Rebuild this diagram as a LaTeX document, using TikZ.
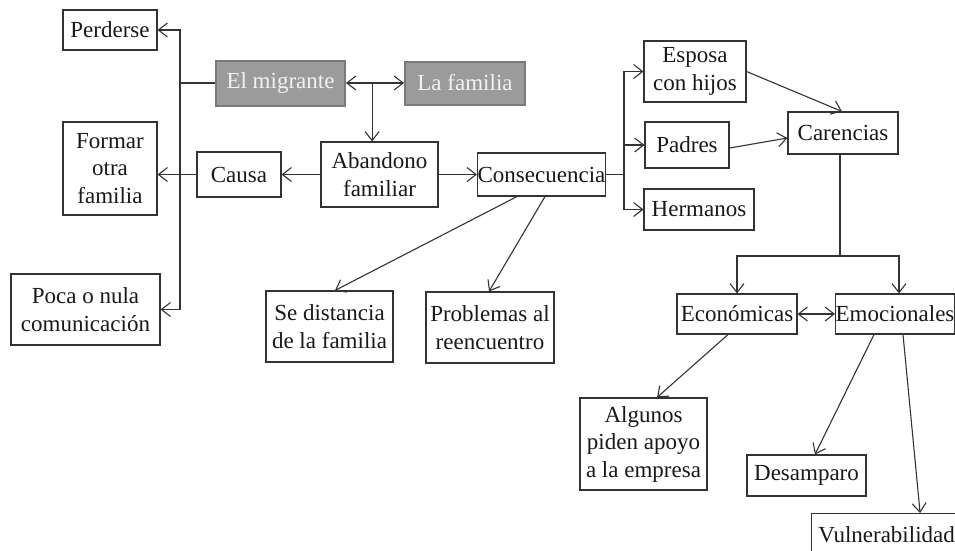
\documentclass[tikz,border=0pt]{standalone}
\usepackage{fontspec}
\setmainfont{Liberation Serif}
\usetikzlibrary{arrows.meta,calc}
\definecolor{ln}{HTML}{333333}
\definecolor{gfill}{HTML}{9B9B9B}
\definecolor{gdraw}{HTML}{7A7A7A}
\tikzset{
  box/.style={draw=ln, line width=1.1pt, fill=white, inner sep=0pt, align=center, text=black!90,
    font=\fontsize{23}{27.5}\selectfont},
  gbox/.style={box, fill=gfill, draw=gdraw, line width=2pt, text=white!95!black},
  arr/.style={draw=ln, line width=1.1pt, -{Straight Barb[length=9pt,width=14pt,line width=1.1pt]}},
  darr/.style={draw=ln, line width=1.1pt, {Straight Barb[length=9pt,width=14pt,line width=1.1pt]}-{Straight Barb[length=9pt,width=14pt,line width=1.1pt]}},
  plain/.style={draw=ln, line width=1.1pt}
}
\begin{document}
\begin{tikzpicture}[x=1pt,y=-1pt]
\useasboundingbox (0,0) rectangle (955,550);
\clip (0,0) rectangle (955,550);
% nodes
\node[box, minimum width=94pt, minimum height=40pt] (perd) at (110,30) {Perderse};
\node[gbox, minimum width=129pt, minimum height=45pt] (mig) at (280.5,83) {El migrante};
\node[gbox, minimum width=120pt, minimum height=43pt] (fam) at (465,83) {La familia};
\node[box, minimum width=94pt, minimum height=93pt] (form) at (110,168.5) {Formar\\otra\\familia};
\node[box, minimum width=84pt, minimum height=45pt] (causa) at (239,174.5) {Causa};
\node[box, minimum width=117pt, minimum height=65pt] (aband) at (379.5,174.5) {Abandono\\familiar};
\node[box, minimum width=128pt, minimum height=43pt] (cons) at (541.5,174.5) {Consecuencia};
\node[box, minimum width=149pt, minimum height=71pt] (poca) at (85.5,309.5) {Poca o nula\\comunicación};
\node[box, minimum width=127pt, minimum height=71pt] (sed) at (329.5,326.5) {Se distancia\\de la familia};
\node[box, minimum width=128pt, minimum height=71pt] (prob) at (490,327.5) {Problemas al\\reencuentro};
\node[box, minimum width=102pt, minimum height=61pt] (esp) at (695,71.5) {Esposa\\con hijos};
\node[box, minimum width=84pt, minimum height=46pt] (pad) at (687,145) {Padres};
\node[box, minimum width=110pt, minimum height=41pt] (herm) at (699,209.5) {Hermanos};
\node[box, minimum width=110pt, minimum height=42pt] (car) at (843,133) {Carencias};
\node[box, minimum width=120pt, minimum height=40pt] (eco) at (737,314) {Económicas};
\node[box, minimum width=119pt, minimum height=40pt] (emo) at (895,314) {Emocionales};
\node[box, minimum width=127pt, minimum height=92pt] (alg) at (643.5,444) {Algunos\\piden apoyo\\a la empresa};
\node[box, minimum width=119pt, minimum height=41pt] (des) at (806.5,475.5) {Desamparo};
\node[box, minimum width=150pt, minimum height=42pt, anchor=north west] (vul) at (811,513) {Vulnerabilidad};
% coordinates
\coordinate (bus) at (180,200);
\coordinate (bus2) at (624,150);
\coordinate (jn) at ($(mig.east)!0.45!(fam.west)$);
\coordinate (cj) at (840,256);
% connectors left
\draw[darr] (perd.east) -| (bus) |- (poca.east);
\draw[plain] (mig.west) -- (mig.west -| bus);
\draw[arr] (causa.west) -- (causa.west -| form.east);
\draw[arr] (aband.west) -- (causa.east);
\draw[darr] (mig.east) -- (fam.west);
\draw[arr] (jn) -- (jn |- aband.north);
\draw[arr] (aband.east) -- (cons.west);
% consecuencia
\draw[plain] (cons.east) -- (cons.east -| bus2);
\draw[darr] (esp.west) -| (bus2) |- (herm.west);
\draw[arr] (bus2 |- pad.west) -- (pad.west);
\draw[arr] ([xshift=-24.5pt]cons.south) -- ([xshift=5.5pt]sed.north);
\draw[arr] ([xshift=3.5pt]cons.south) -- ([xshift=-1pt]prob.north);
% carencias
\draw[arr] (esp.east) -- ([xshift=-1pt]car.north);
\draw[arr] ([yshift=-3pt]pad.east) -- ([yshift=-5pt]car.west);
\draw[plain] ([xshift=-3pt]car.south) -- (cj);
\draw[darr] (eco.north) |- (cj) -| ([xshift=4pt]emo.north);
\draw[darr] (eco.east) -- (emo.west);
\draw[arr] ([xshift=-9pt]eco.south) -- ([xshift=13.5pt]alg.north);
\draw[arr] ([xshift=-21pt]emo.south) -- ([xshift=8.5pt]des.north);
\draw[arr] ([xshift=8pt]emo.south) -- ([xshift=-42pt]vul.north east);
\end{tikzpicture}
\end{document}
